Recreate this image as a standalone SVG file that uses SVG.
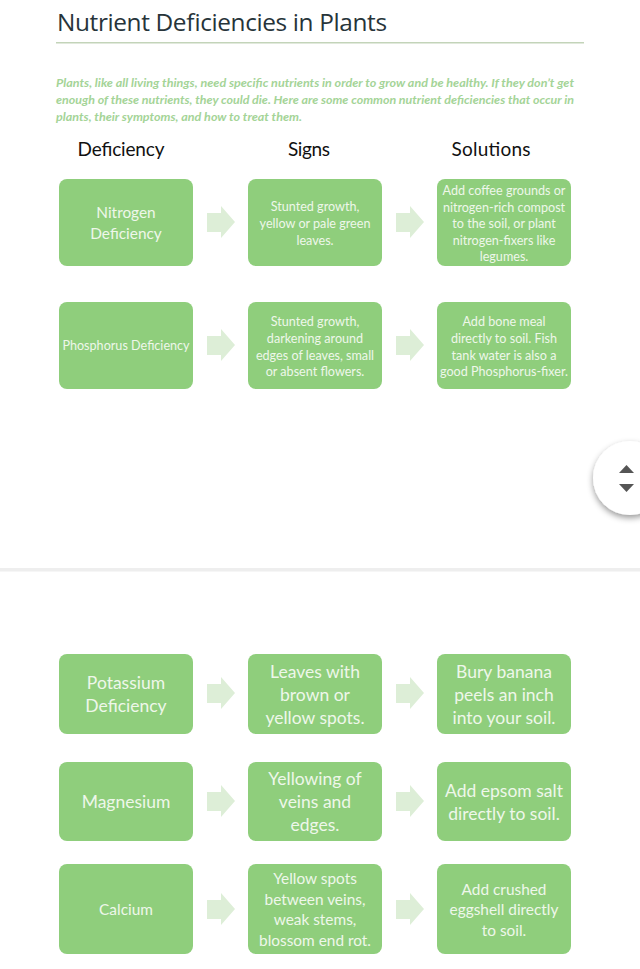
<svg xmlns="http://www.w3.org/2000/svg" width="640" height="969" viewBox="0 0 640 969">
<style>
text{font-family:"Lato","Open Sans",sans-serif}
.box{fill:#8fce7c}
.arrow{fill:#ddeed7}
.t{fill:#eef7ea;text-anchor:middle}
.s12{font-size:12.6px}.s15{font-size:15.4px}.s17{font-size:17.5px}
.head{font-size:19px;fill:#111;text-anchor:middle}
.intro{font-size:11.8px;font-weight:700;font-style:italic;fill:#a4d497}
</style>
<defs>
<filter id="sh" x="-30%" y="-30%" width="160%" height="170%"><feDropShadow dx="0" dy="3" stdDeviation="3" flood-color="#000" flood-opacity="0.4"/></filter>
<path id="ar" class="arrow" d="M0 7H14V0L28 16L14 32V26H0Z"/>
</defs>
<rect width="640" height="969" fill="#fff"/>
<text id="title" x="57" y="31" font-size="24.4" fill="#27343a" style="font-family:'Open Sans',sans-serif" textLength="330">Nutrient Deficiencies in Plants</text>
<rect x="56" y="42" width="528" height="1.5" fill="#c3d4b9"/>
<text class="intro" x="56" y="87" textLength="518" lengthAdjust="spacingAndGlyphs">Plants, like all living things, need specific nutrients in order to grow and be healthy. If they don’t get</text>
<text class="intro" x="56" y="104" textLength="518" lengthAdjust="spacingAndGlyphs">enough of these nutrients, they could die. Here are some common nutrient deficiencies that occur in</text>
<text class="intro" x="56" y="121" textLength="246" lengthAdjust="spacingAndGlyphs">plants, their symptoms, and how to treat them.</text>
<text class="head" x="121" y="156" textLength="87">Deficiency</text>
<text class="head" x="309" y="156" textLength="42">Signs</text>
<text class="head" x="491" y="156" textLength="79">Solutions</text>
<g id="connectors">
<use href="#ar" x="207" y="206"/><use href="#ar" x="396" y="206"/>
<use href="#ar" x="207" y="329"/><use href="#ar" x="396" y="329"/>
<use href="#ar" x="207" y="677"/><use href="#ar" x="396" y="677"/>
<use href="#ar" x="207" y="785"/><use href="#ar" x="396" y="785"/>
<use href="#ar" x="207" y="893"/><use href="#ar" x="396" y="893"/>
</g>
<g id="n1"><rect class="box" x="59" y="179" width="134" height="87" rx="8"/><text class="t s15" x="126" y="218">Nitrogen</text><text class="t s15" x="126" y="239">Deficiency</text></g>
<g id="s1"><rect class="box" x="248" y="179" width="134" height="87" rx="8"/><text class="t s12" x="315" y="211">Stunted growth,</text><text class="t s12" x="315" y="228">yellow or pale green</text><text class="t s12" x="315" y="245">leaves.</text></g>
<g id="f1"><rect class="box" x="437" y="179" width="134" height="87" rx="8"/><text class="t s12" x="504" y="195">Add coffee grounds or</text><text class="t s12" x="504" y="212">nitrogen-rich compost</text><text class="t s12" x="504" y="228">to the soil, or plant</text><text class="t s12" x="504" y="245">nitrogen-fixers like</text><text class="t s12" x="504" y="261">legumes.</text></g>
<g id="n2"><rect class="box" x="59" y="302" width="134" height="87" rx="8"/><text class="t s12" x="126" y="350">Phosphorus Deficiency</text></g>
<g id="s2"><rect class="box" x="248" y="302" width="134" height="87" rx="8"/><text class="t s12" x="315" y="326">Stunted growth,</text><text class="t s12" x="315" y="343">darkening around</text><text class="t s12" x="315" y="360">edges of leaves, small</text><text class="t s12" x="315" y="376">or absent flowers.</text></g>
<g id="f2"><rect class="box" x="437" y="302" width="134" height="87" rx="8"/><text class="t s12" x="504" y="326">Add bone meal</text><text class="t s12" x="504" y="343">directly to soil. Fish</text><text class="t s12" x="504" y="360">tank water is also a</text><text class="t s12" x="504" y="376">good Phosphorus-fixer.</text></g>
<g id="scroll"><circle cx="630" cy="478" r="37" fill="#fff" filter="url(#sh)"/><path d="M619 473L626.500 465L634 473Z M619 484L634 484L626.500 492Z" fill="#555"/></g>
<rect id="divider" x="0" y="568" width="640" height="3.500" fill="#eee"/>
<g id="n3"><rect class="box" x="59" y="654" width="134" height="80" rx="8"/><text class="t s17" x="126" y="689">Potassium</text><text class="t s17" x="126" y="712">Deficiency</text></g>
<g id="s3"><rect class="box" x="248" y="654" width="134" height="80" rx="8"/><text class="t s17" x="315" y="678">Leaves with</text><text class="t s17" x="315" y="701">brown or</text><text class="t s17" x="315" y="724">yellow spots.</text></g>
<g id="f3"><rect class="box" x="437" y="654" width="134" height="80" rx="8"/><text class="t s17" x="504" y="678">Bury banana</text><text class="t s17" x="504" y="701">peels an inch</text><text class="t s17" x="504" y="724">into your soil.</text></g>
<g id="n4"><rect class="box" x="59" y="762" width="134" height="79" rx="8"/><text class="t s17" x="126" y="808">Magnesium</text></g>
<g id="s4"><rect class="box" x="248" y="762" width="134" height="79" rx="8"/><text class="t s17" x="315" y="785">Yellowing of</text><text class="t s17" x="315" y="808">veins and</text><text class="t s17" x="315" y="831">edges.</text></g>
<g id="f4"><rect class="box" x="437" y="762" width="134" height="79" rx="8"/><text class="t s17" x="504" y="797">Add epsom salt</text><text class="t s17" x="504" y="820">directly to soil.</text></g>
<g id="n5"><rect class="box" x="59" y="864" width="134" height="90" rx="8"/><text class="t s15" x="126" y="915">Calcium</text></g>
<g id="s5"><rect class="box" x="248" y="864" width="134" height="90" rx="8"/><text class="t s15" x="315" y="884">Yellow spots</text><text class="t s15" x="315" y="905">between veins,</text><text class="t s15" x="315" y="925">weak stems,</text><text class="t s15" x="315" y="946">blossom end rot.</text></g>
<g id="f5"><rect class="box" x="437" y="864" width="134" height="90" rx="8"/><text class="t s15" x="504" y="895">Add crushed</text><text class="t s15" x="504" y="915">eggshell directly</text><text class="t s15" x="504" y="936">to soil.</text></g>
</svg>
